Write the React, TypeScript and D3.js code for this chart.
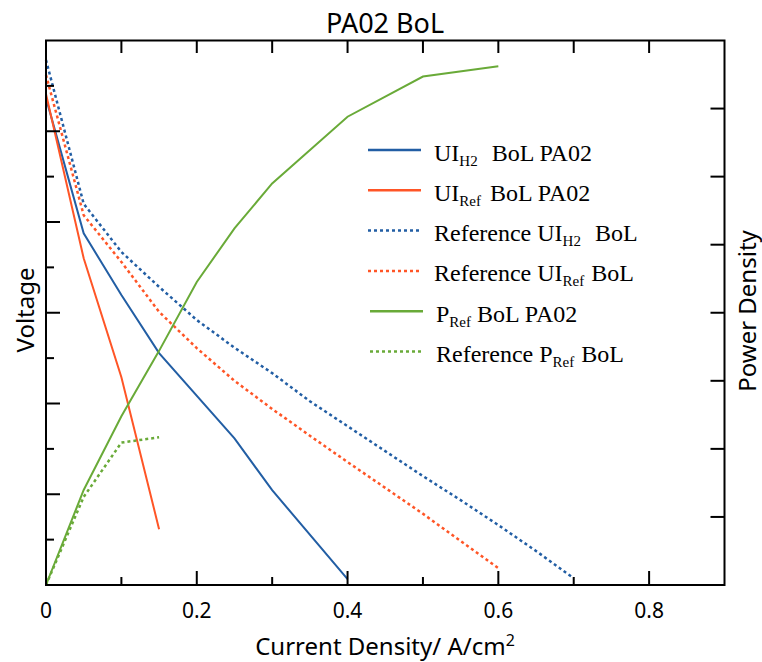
import React from "react";
import * as d3 from "d3";

// ---- Data ----
const currentUIH2 = [0, 0.05, 0.1, 0.15, 0.25, 0.3, 0.4];
const voltageUIH2 = [1.073, 0.775, 0.639, 0.511, 0.323, 0.209, 0.013];

const currentUIRef = [0, 0.05, 0.1, 0.15];
const voltageUIRef = [1.082, 0.72, 0.458, 0.123];

const currentRefUIH2 = [0, 0.05, 0.1, 0.15, 0.2, 0.25, 0.3, 0.35, 0.4, 0.45, 0.5, 0.55, 0.6, 0.65, 0.7];
const voltageRefUIH2 = [1.157, 0.84, 0.734, 0.657, 0.584, 0.523, 0.467, 0.405, 0.35, 0.295, 0.24, 0.187, 0.132, 0.075, 0.015];

const currentRefUIRef = [0, 0.05, 0.1, 0.15, 0.2, 0.25, 0.3, 0.35, 0.4, 0.45, 0.5, 0.55, 0.6];
const voltageRefUIRef = [1.124, 0.815, 0.712, 0.602, 0.522, 0.45, 0.388, 0.329, 0.271, 0.214, 0.157, 0.097, 0.037];

const currentPRef = [0, 0.05, 0.1, 0.15, 0.2, 0.25, 0.3, 0.4, 0.5, 0.6];
const powerPRef = [0, 0.0698, 0.124, 0.172, 0.2226, 0.262, 0.295, 0.344, 0.3735, 0.381];

const currentRefPRef = [0, 0.05, 0.1, 0.15];
const powerRefPRef = [0, 0.0647, 0.1046, 0.1085];

const xTickValues = [0, 0.2, 0.4, 0.6, 0.8];
const xTickLabels = ["0", "0.2", "0.4", "0.6", "0.8"];

const BLUE = "#225EA4";
const ORANGE = "#FF5526";
const GREEN = "#69AA38";

type Seg = { t: string; sub?: boolean; dx?: number };

export default function App() {
  const left = 46, right = 724.5, top = 40.5, bottom = 585;
  const x = d3.scaleLinear().domain([0, 0.9]).range([left, right]);
  const yV = d3.scaleLinear().domain([0, 1.2]).range([bottom, top]);
  const yP = d3.scaleLinear().domain([0, 0.4]).range([bottom, top]);

  const mk = (xs: number[], ys: number[], ys2: d3.ScaleLinear<number, number>) =>
    d3.line<number>().x((_, i) => x(xs[i])).y((d) => ys2(d))(ys) || "";

  const series = [
    { d: mk(currentUIH2, voltageUIH2, yV), color: BLUE, dash: false },
    { d: mk(currentUIRef, voltageUIRef, yV), color: ORANGE, dash: false },
    { d: mk(currentRefUIH2, voltageRefUIH2, yV), color: BLUE, dash: true },
    { d: mk(currentRefUIRef, voltageRefUIRef, yV), color: ORANGE, dash: true },
    { d: mk(currentPRef, powerPRef, yP), color: GREEN, dash: false },
    { d: mk(currentRefPRef, powerRefPRef, yP), color: GREEN, dash: true },
  ];

  const legend: { color: string; dash: boolean; segs: Seg[]; x0: number }[] = [
    { color: BLUE, dash: false, x0: 368, segs: [{ t: "UI" }, { t: "H2", sub: true }, { t: "BoL PA02", dx: 14 }] },
    { color: ORANGE, dash: false, x0: 368, segs: [{ t: "UI" }, { t: "Ref", sub: true }, { t: "BoL PA02", dx: 9 }] },
    { color: BLUE, dash: true, x0: 368, segs: [{ t: "Reference UI" }, { t: "H2", sub: true }, { t: "BoL", dx: 14 }] },
    { color: ORANGE, dash: true, x0: 368, segs: [{ t: "Reference UI" }, { t: "Ref", sub: true }, { t: "BoL", dx: 7 }] },
    { color: GREEN, dash: false, x0: 370, segs: [{ t: "P" }, { t: "Ref", sub: true }, { t: "BoL PA02", dx: 6 }] },
    { color: GREEN, dash: true, x0: 370, segs: [{ t: "Reference P" }, { t: "Ref", sub: true }, { t: "BoL", dx: 7 }] },
  ];

  const minorX = d3.range(1, 9).map((i) => i / 10);
  const vTicks = d3.range(1, 12).map((i) => i / 10);
  const pTicks = d3.range(1, 8).map((i) => i * 0.05);

  return (
    <svg width={762} height={662} style={{ position: "absolute", left: 0, top: 0, background: "#fff" }}>
      <rect x={0} y={0} width={762} height={662} fill="#fff" />
      {/* series */}
      <g>
        {series.map((s, i) => (
          <path key={i} d={s.d} fill="none" stroke={s.color}
            strokeWidth={s.dash ? 2.5 : 2} strokeDasharray={s.dash ? "3 3" : undefined} />
        ))}
      </g>
      {/* frame */}
      <rect x={left} y={top} width={right - left} height={bottom - top} fill="none" stroke="#000" strokeWidth={2} />
      {/* bottom ticks */}
      {minorX.map((v, i) => {
        const major = Math.round(v * 10) % 2 === 0;
        return <line key={"b" + i} x1={x(v)} x2={x(v)} y1={bottom} y2={bottom - (major ? 14 : 8)} stroke="#000" strokeWidth={2} />;
      })}
      {/* top ticks */}
      {minorX.map((v, i) => (
        <line key={"t" + i} x1={x(v)} x2={x(v)} y1={top} y2={top + 12.5} stroke="#000" strokeWidth={2} />
      ))}
      {/* left ticks */}
      {vTicks.map((v, i) => {
        const major = Math.round(v * 10) % 2 === 0;
        return <line key={"l" + i} x1={left} x2={left + (major ? 14 : 8)} y1={yV(v)} y2={yV(v)} stroke="#000" strokeWidth={2} />;
      })}
      {/* right ticks */}
      {pTicks.map((v, i) => (
        <line key={"r" + i} x1={right} x2={right - 14} y1={yP(v)} y2={yP(v)} stroke="#000" strokeWidth={2} />
      ))}
      {/* x tick labels */}
      {xTickValues.map((v, i) => (
        <text key={"xl" + i} x={x(v)} y={618} textAnchor="middle" fontFamily="Noto Sans" fontSize={21} fill="#000">
          {xTickLabels[i]}
        </text>
      ))}
      {/* title */}
      <text x={385} y={33} textAnchor="middle" fontFamily="Noto Sans" fontSize={27} fill="#000">PA02 BoL</text>
      {/* x label */}
      <text x={385} y={655} textAnchor="middle" fontFamily="Noto Sans" fontSize={24} fill="#000">
        Current Density/ A/cm<tspan dy={-9} fontSize={16}>2</tspan>
      </text>
      {/* y labels */}
      <text transform="translate(33.5,310) rotate(-90)" textAnchor="middle" fontFamily="Noto Sans" fontSize={24} fill="#000">Voltage</text>
      <text transform="translate(756,311) rotate(-90)" textAnchor="middle" fontFamily="Noto Sans" fontSize={24} fill="#000">Power Density</text>
      {/* legend */}
      {legend.map((l, i) => {
        const ly = 150 + i * 40.3;
        return (
          <g key={"lg" + i}>
            <line x1={l.x0} x2={l.x0 + 53} y1={ly} y2={ly} stroke={l.color}
              strokeWidth={2.5} strokeDasharray={l.dash ? "3 3" : undefined} />
            <text x={434 + (i >= 4 ? 2 : 0)} y={ly + 10.5} fontFamily="Liberation Serif" fontSize={24} fill="#000">
              {l.segs.map((s, j) => {
                const prevSub = j > 0 && l.segs[j - 1].sub;
                const dy = s.sub ? 5 : prevSub ? -5 : 0;
                return (
                  <tspan key={j} dx={s.dx || 0} dy={dy} fontSize={s.sub ? 15 : 24}>{s.t}</tspan>
                );
              })}
            </text>
          </g>
        );
      })}
    </svg>
  );
}
